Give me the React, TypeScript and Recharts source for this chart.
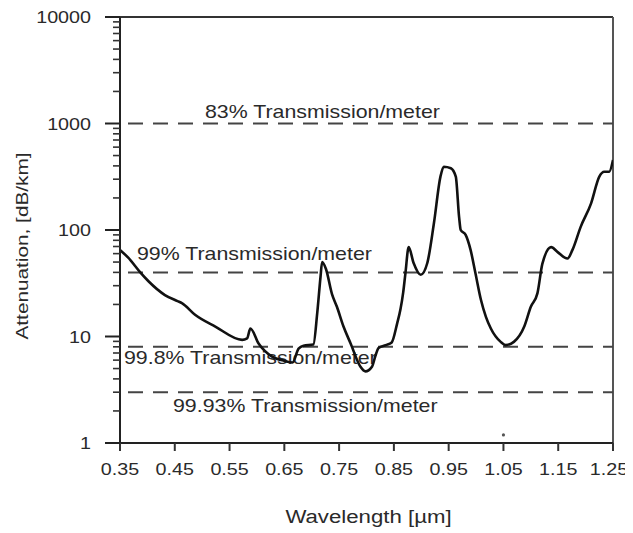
import React from 'react';
import { LineChart, Line, XAxis, YAxis, ReferenceLine, ReferenceDot } from 'recharts';

// Wavelength in µm
const wavelengths = [
  0.35, 0.365, 0.387, 0.402, 0.432, 0.455, 0.463, 0.487, 0.524, 0.573,
  0.582, 0.588, 0.603, 0.627, 0.65, 0.665, 0.676, 0.685, 0.703, 0.71,
  0.716, 0.719, 0.726, 0.737, 0.746, 0.758, 0.771, 0.789, 0.798, 0.81,
  0.816, 0.822, 0.835, 0.846, 0.856, 0.862, 0.867, 0.871, 0.877, 0.886,
  0.899, 0.911, 0.923, 0.935, 0.941, 0.954, 0.963, 0.969, 0.972, 0.981,
  0.99, 0.999, 1.009, 1.018, 1.027, 1.045, 1.054, 1.069, 1.088, 1.1,
  1.112, 1.121, 1.137, 1.149, 1.167, 1.176, 1.191, 1.21, 1.225, 1.234,
  1.243, 1.25,
];
// Attenuation in dB/km
const attenuation = [
  65, 55, 40, 33, 24.5, 21.5, 20.6, 16, 12.4, 9.3,
  9.6, 11.9, 8.6, 6.5, 5.9, 5.7, 7.7, 8.2, 8.4, 16.5,
  36, 50, 43, 25, 19, 12.4, 8.6, 5.2, 4.7, 5.2,
  6.5, 7.8, 8.3, 8.8, 13.3, 18, 26, 39, 69, 49,
  38, 49, 115, 317, 393, 380, 317, 133, 100, 90,
  65, 39, 22, 15.3, 11.9, 8.9, 8.3, 8.9, 12.4, 19,
  25.4, 48, 69, 62, 54, 65, 107, 178, 317, 352,
  352, 454,
];

const xTicks = [0.35, 0.45, 0.55, 0.65, 0.75, 0.85, 0.95, 1.05, 1.15, 1.25];
const xTickLabels = ['0.35', '0.45', '0.55', '0.65', '0.75', '0.85', '0.95', '1.05', '1.15', '1.25'];
const yMajorTicks = [1, 10, 100, 1000, 10000];
const yMinorTicks = [
  2, 3, 4, 5, 6, 7, 8, 9,
  20, 30, 40, 50, 60, 70, 80, 90,
  200, 300, 400, 500, 600, 700, 800, 900,
  2000, 3000, 4000, 5000, 6000, 7000, 8000, 9000,
];

const levelValues = [1000, 40, 8, 3];
const levelLabels = [
  '83% Transmission/meter',
  '99% Transmission/meter',
  '99.8% Transmission/meter',
  '99.93% Transmission/meter',
];
// label offsets (px) relative to the left end of each level line
const levelLabelOffsets = [
  { dx: 85, dy: -12 },
  { dx: 17, dy: -19 },
  { dx: 4, dy: 11 },
  { dx: 53, dy: 14 },
];

const strayDot = { x: 1.05, y: 1.19 };

const data = wavelengths.map((x, i) => ({ x, y: attenuation[i] }));
const yTicks = [...yMajorTicks, ...yMinorTicks].sort((a, b) => a - b);

const FONT = '"Liberation Sans", Arial, Helvetica, sans-serif';
const TEXT_COLOR = '#2a2a2a';
const SX = 1.22;
const TICK_SX = 1.16;

const XTick = (props: any) => {
  const { x, y, payload } = props;
  const idx = xTicks.indexOf(payload.value);
  const label = idx >= 0 ? xTickLabels[idx] : String(payload.value);
  const shift = idx === xTicks.length - 1 ? -4 : 0;
  return (
    <text
      transform={`translate(${x + shift},${y}) scale(${TICK_SX},1)`}
      textAnchor="middle"
      dy="0.71em"
      fontSize={17}
      fontFamily={FONT}
      fill={TEXT_COLOR}
    >
      {label}
    </text>
  );
};

const YTick = (props: any) => {
  const { x, y, payload } = props;
  const v = payload.value;
  const major = yMajorTicks.includes(v);
  if (!major) {
    return <line x1={x} x2={x - 7} y1={y} y2={y} stroke="#333" strokeWidth={1.6} />;
  }
  return (
    <g>
      <line x1={x} x2={x - 15} y1={y} y2={y} stroke="#222" strokeWidth={2} />
      <text
        transform={`translate(${x - 29},${y}) scale(${TICK_SX},1)`}
        textAnchor="end"
        dy="0.36em"
        fontSize={17}
        fontFamily={FONT}
        fill={TEXT_COLOR}
      >
        {String(v)}
      </text>
    </g>
  );
};

const makeLevelLabel = (i: number) => (props: any) => {
  const vb = props.viewBox || {};
  const { dx, dy } = levelLabelOffsets[i];
  return (
    <text
      transform={`translate(${vb.x + dx},${vb.y + dy}) scale(${SX},1)`}
      textAnchor="start"
      dy="0.36em"
      fontSize={17.5}
      fontFamily={FONT}
      fill={TEXT_COLOR}
    >
      {levelLabels[i]}
    </text>
  );
};

const XTitle = (props: any) => {
  const vb = props.viewBox || {};
  return (
    <text
      transform={`translate(${vb.x + vb.width / 2 + 2},${vb.y + 73}) scale(1.17,1)`}
      textAnchor="middle"
      dy="0.36em"
      fontSize={19}
      fontFamily={FONT}
      fill={TEXT_COLOR}
    >
      Wavelength [µm]
    </text>
  );
};

const YTitle = (props: any) => {
  const vb = props.viewBox || {};
  const cx = vb.x + 14;
  const cy = vb.y + vb.height / 2 + 16;
  return (
    <text
      transform={`translate(${cx},${cy}) rotate(-90) scale(1.26,1)`}
      textAnchor="middle"
      dy="0.36em"
      fontSize={16.5}
      fontFamily={FONT}
      fill={TEXT_COLOR}
    >
      Attenuation, [dB/km]
    </text>
  );
};

export default function App() {
  return (
    <div style={{ width: 625, height: 525 }}>
      <LineChart
        width={625}
        height={525}
        data={data}
        margin={{ top: 9, right: 20, bottom: 0, left: 0 }}
      >
        <XAxis
          type="number"
          dataKey="x"
          domain={[0.35, 1.25]}
          ticks={xTicks}
          interval={0}
          allowDataOverflow
          height={90}
          tickSize={8}
          tickMargin={12}
          axisLine={{ stroke: '#222', strokeWidth: 2 }}
          tickLine={{ stroke: '#333', strokeWidth: 2 }}
          tick={<XTick />}
          label={XTitle}
        />
        <YAxis
          type="number"
          scale="log"
          domain={[1, 10000]}
          ticks={yTicks}
          interval={0}
          allowDataOverflow
          width={112}
          tickSize={0}
          tickMargin={0}
          axisLine={{ stroke: '#222', strokeWidth: 2 }}
          tickLine={false}
          tick={<YTick />}
          label={YTitle}
        />
        <ReferenceLine y={10000} stroke="#333" strokeWidth={2} />
        <ReferenceLine x={1.25} stroke="#555" strokeWidth={2} />
        {levelValues.map((v, i) => (
          <ReferenceLine
            key={v}
            y={v}
            stroke="#444"
            strokeWidth={2}
            strokeDasharray="15 10"
            strokeDashoffset={17}
            label={makeLevelLabel(i)}
          />
        ))}
        <ReferenceDot x={strayDot.x} y={strayDot.y} r={1.6} fill="#555" stroke="none" />
        <Line
          type="monotone"
          dataKey="y"
          stroke="#111"
          strokeWidth={2.6}
          dot={false}
          activeDot={false}
          isAnimationActive={false}
        />
      </LineChart>
    </div>
  );
}
